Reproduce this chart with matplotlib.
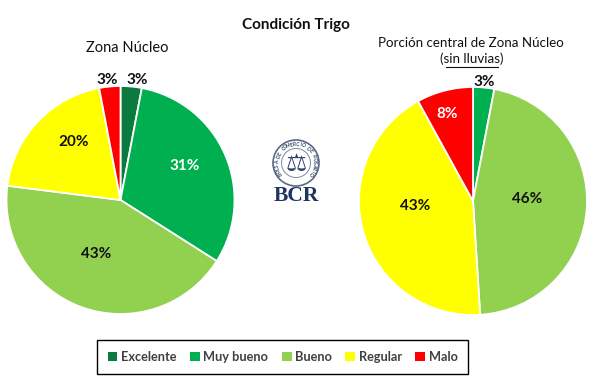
import math
import matplotlib
matplotlib.use('Agg')
import matplotlib.pyplot as plt
from matplotlib.patches import Circle, Patch

W, H = 596, 388

categories = ['Excelente', 'Muy bueno', 'Bueno', 'Regular', 'Malo']
colors = ['#0B7A3E', '#00B050', '#92D050', '#FFFF00', '#FF0000']
nucleo_values = [3, 31, 43, 20, 3]
central_values = [0, 3, 46, 43, 8]
nucleo_label_colors = ['#111111', 'white', '#111111', '#111111', '#111111']
central_label_colors = ['#111111', '#111111', '#111111', '#111111', 'white']

# donde caen las etiquetas, en pixeles de la imagen
nucleo_label_px = [(137, 80.5), (185, 166.5), (96, 254.5), (74, 141.5), (107, 80.5)]
central_label_px = [None, (484, 82.5), (527, 199.5), (415, 206.5), (447, 113.5)]

plt.rcParams['font.family'] = ['Lato', 'DejaVu Sans']


def px_axes(fig, cx, cy, r):
    return fig.add_axes([(cx - r) / W, 1 - (cy + r) / H, 2 * r / W, 2 * r / H])


def draw_pie(fig, ax, values, label_colors, label_px):
    ax.pie(values, colors=colors, startangle=90, counterclock=False,
           radius=1, wedgeprops={'edgecolor': 'white', 'linewidth': 1.3})
    ax.set_xlim(-1, 1)
    ax.set_ylim(-1, 1)
    ax.set_aspect('equal')
    for v, c, pos in zip(values, label_colors, label_px):
        if v == 0:
            continue
        fig.text(pos[0] / W, 1 - pos[1] / H, f'{v}%', color=c, fontsize=11,
                 fontweight='bold', ha='center', va='center', zorder=10)


fig = plt.figure(figsize=(W / 100, H / 100), dpi=100, facecolor='white')

ax1 = px_axes(fig, 120.5, 200, 114)
draw_pie(fig, ax1, nucleo_values, nucleo_label_colors, nucleo_label_px)
ax2 = px_axes(fig, 473, 201, 114)
draw_pie(fig, ax2, central_values, central_label_colors, central_label_px)

fig.text(296 / W, 1 - 25.5 / H, 'Condición Trigo', fontsize=11, fontweight='bold',
         ha='center', va='center', color='#111111')
fig.text(127 / W, 1 - 48 / H, 'Zona Núcleo', fontsize=10.5, ha='center', va='center', color='#111111')
fig.text(471 / W, 1 - 43 / H, 'Porción central de Zona Núcleo', fontsize=9.6,
         ha='center', va='center', color='#111111')
fig.text(472 / W, 1 - 59 / H, '(sin lluvias)', fontsize=9.6, ha='center', va='center', color='#111111')
fig.add_artist(plt.Line2D([446 / W, 498 / W], [1 - 66.5 / H] * 2, color='#111111', lw=0.8))

# logo BCR
logo = fig.add_axes([0, 0, 1, 1], zorder=-1)
logo.set_xlim(0, W)
logo.set_ylim(H, 0)
logo.axis('off')
logo.add_patch(Circle((296, 163), 23, fc='white', ec='#5A6A86', lw=1.2))
logo.add_patch(Circle((296, 163), 14.5, fc='white', ec='#7C8AA0', lw=0.7))
ring = 'BOLSA DE COMERCIO DE ROSARIO'
for i, ch in enumerate(ring):
    ang = 215 - i * 250 / (len(ring) - 1)
    a = math.radians(ang)
    logo.text(296 + 18.8 * math.cos(a), 163 - 18.8 * math.sin(a), ch, fontsize=3.6,
              rotation=ang - 90, ha='center', va='center', color='#33466A', fontweight='bold')
logo.text(296, 164, '⚖', fontsize=17, ha='center', va='center', color='#2F4468',
          family=['DejaVu Sans'])
logo.text(296, 196, 'BCR', fontsize=15.5, ha='center', va='center', color='#1F3560',
          family=['Liberation Serif'], fontweight='bold')

handles = [Patch(facecolor=c, edgecolor='none') for c in colors]
leg = fig.legend(handles, categories, ncol=5, loc='center', bbox_to_anchor=(282.5 / W, 1 - 357 / H),
                 frameon=True, fancybox=False, edgecolor='black', framealpha=1,
                 handlelength=0.78, handleheight=0.78, handletextpad=0.27, columnspacing=1.05,
                 borderpad=0.84, borderaxespad=0, prop={'weight': 'bold', 'size': 9.2})
leg.get_frame().set_linewidth(1.0)
for t in leg.get_texts():
    t.set_color('#404040')

fig.savefig('out.png', dpi=100)
